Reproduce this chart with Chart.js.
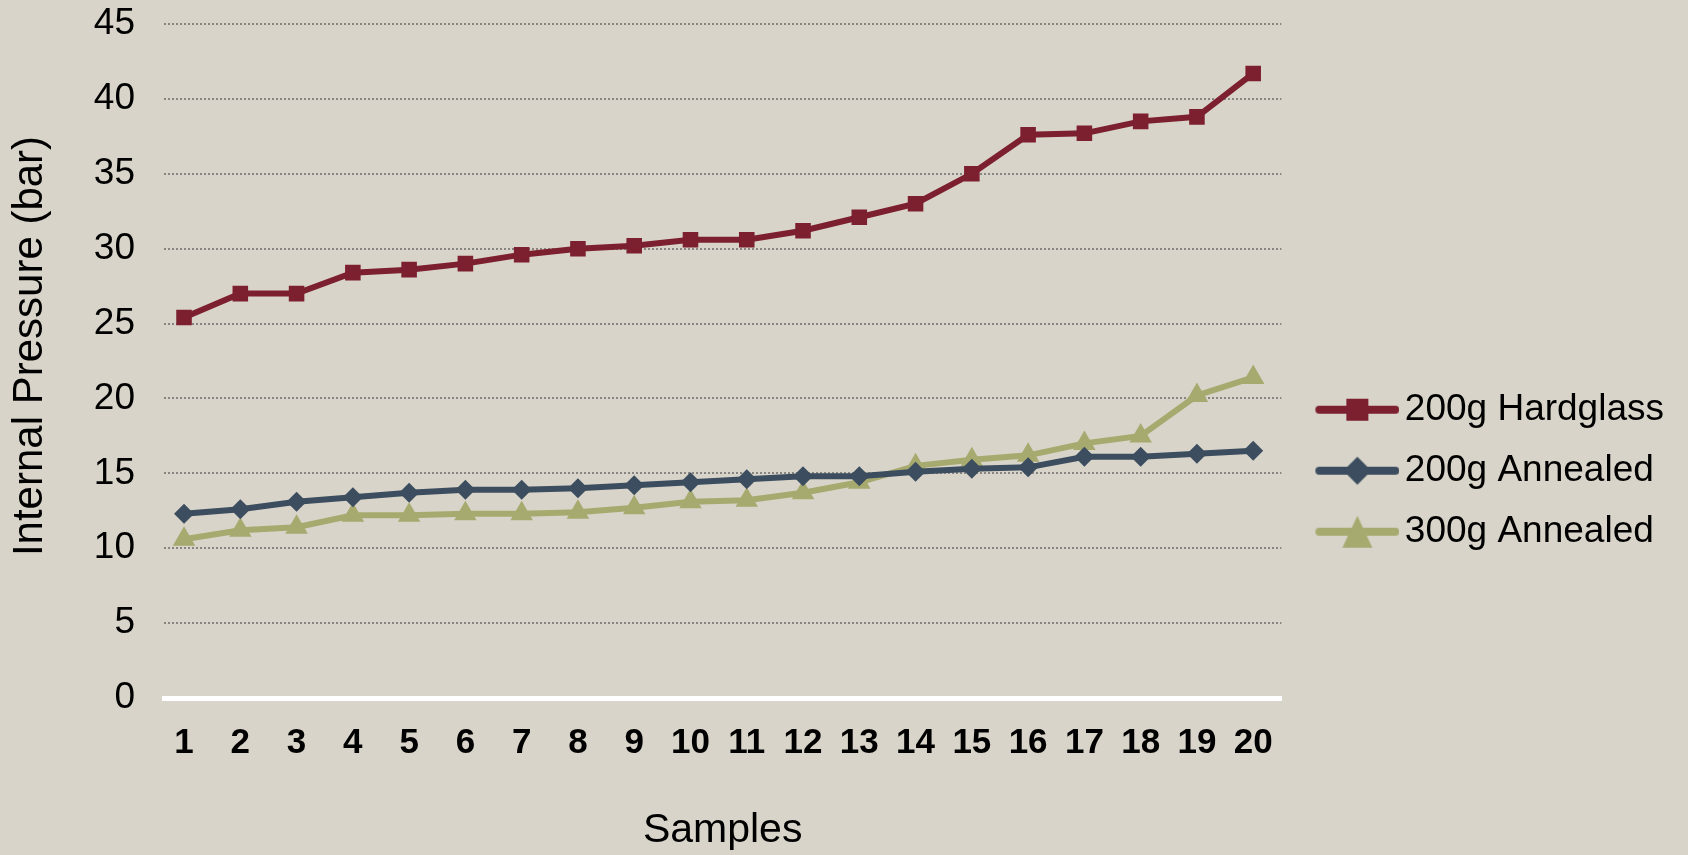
<!DOCTYPE html>
<html>
<head>
<meta charset="utf-8">
<script src="https://cdn.jsdelivr.net/npm/chart.js@4.4.1/dist/chart.umd.min.js"></script>
<style>
  html, body { margin: 0; padding: 0; background: #d8d4c9; }
  #wrap { width: 1688px; height: 855px; }
</style>
</head>
<body>
<div id="wrap"><canvas id="chart" width="1688" height="855"></canvas></div>
<script>
// data
const samples = [1, 2, 3, 4, 5, 6, 7, 8, 9, 10, 11, 12, 13, 14, 15, 16, 17, 18, 19, 20];
const hardglass200 = [25.4, 27.0, 27.0, 28.4, 28.6, 29.0, 29.6, 30.0, 30.2, 30.6, 30.6, 31.2, 32.1, 33.0, 35.0, 37.6, 37.7, 38.5, 38.8, 41.7];
const annealed200 = [12.3, 12.6, 13.1, 13.4, 13.7, 13.9, 13.9, 14.0, 14.2, 14.4, 14.6, 14.8, 14.8, 15.1, 15.3, 15.4, 16.1, 16.1, 16.3, 16.5];
const annealed300 = [10.6, 11.2, 11.4, 12.2, 12.2, 12.3, 12.3, 12.4, 12.7, 13.1, 13.2, 13.7, 14.4, 15.5, 15.9, 16.2, 17.0, 17.5, 20.2, 21.4];
const seriesNames = ['200g Hardglass', '200g Annealed', '300g Annealed'];
const yTicks = [0, 5, 10, 15, 20, 25, 30, 35, 40, 45];
const yTitle = 'Internal Pressure (bar)';

const RED = '#7c1f2e', BLUE = '#3b4d5e', OLIVE = '#a7aa6f';

// legend icon: line with marker in the middle
function legendIcon(color, shape) {
  const c = document.createElement('canvas');
  c.width = 107; c.height = 36;
  const g = c.getContext('2d');
  const cy = 18, cx = 65;
  g.strokeStyle = color; g.fillStyle = color;
  g.lineWidth = 8; g.lineCap = 'round';
  g.beginPath(); g.moveTo(27, cy); g.lineTo(103, cy); g.stroke();
  g.beginPath();
  if (shape === 'rect') {
    g.rect(cx - 11, cy - 11, 22, 22);
  } else if (shape === 'diamond') {
    g.moveTo(cx, cy - 14); g.lineTo(cx + 14, cy); g.lineTo(cx, cy + 14); g.lineTo(cx - 14, cy);
  } else {
    g.moveTo(cx, cy - 16); g.lineTo(cx + 15, cy + 16); g.lineTo(cx - 15, cy + 16);
  }
  g.closePath(); g.fill();
  return c;
}
const icons = [legendIcon(RED, 'rect'), legendIcon(BLUE, 'diamond'), legendIcon(OLIVE, 'tri')];

const toPoints = arr => samples.map((s, i) => ({ x: s, y: arr[i] }));

new Chart(document.getElementById('chart'), {
  type: 'line',
  data: {
    datasets: [
      { label: seriesNames[0], data: toPoints(hardglass200), borderColor: RED, backgroundColor: RED,
        borderWidth: 6, pointStyle: 'rect', pointRadius: 11, pointBorderWidth: 0 },
      { label: seriesNames[1], data: toPoints(annealed200), borderColor: BLUE, backgroundColor: BLUE,
        borderWidth: 6, pointStyle: 'rectRot', pointRadius: 10, pointBorderWidth: 0 },
      { label: seriesNames[2], data: toPoints(annealed300), borderColor: OLIVE, backgroundColor: OLIVE,
        borderWidth: 6, pointStyle: 'triangle', pointRadius: 13, pointBorderWidth: 0 }
    ]
  },
  options: {
    responsive: false,
    animation: false,
    layout: { padding: { top: 24, left: 0, right: 14, bottom: 0 } },
    plugins: {
      tooltip: { enabled: false },
      legend: {
        position: 'right',
        title: { display: true, text: '', padding: 24 },
        labels: {
          color: '#000',
          font: { family: "'Liberation Sans', Arial, sans-serif", size: 37 },
          usePointStyle: true,
          pointStyleWidth: 81,
          padding: 24,
          generateLabels(chart) {
            const items = Chart.defaults.plugins.legend.labels.generateLabels(chart);
            return items.map((it, i) => ({ ...it, pointStyle: icons[i] }));
          }
        }
      }
    },
    scales: {
      x: {
        type: 'linear',
        min: 0.644,
        max: 20.5,
        afterBuildTicks(scale) { scale.ticks = samples.map(v => ({ value: v })); },
        afterFit(scale) { scale.height = 157; },
        grid: { display: false, drawTicks: false },
        border: { display: true, color: '#ffffff', width: 5 },
        ticks: {
          color: '#000',
          padding: 24,
          maxRotation: 0,
          autoSkip: false,
          font: { family: "'Liberation Sans Narrow', 'Arial Narrow', 'Liberation Sans', sans-serif", size: 35, weight: 'bold' }
        },
        title: {
          display: true,
          text: 'Samples',
          color: '#000',
          font: { family: "'Liberation Sans', Arial, sans-serif", size: 41 },
          padding: { top: 0, bottom: 0 }
        }
      },
      y: {
        min: 0,
        max: 45,
        afterBuildTicks(scale) { scale.ticks = yTicks.map(v => ({ value: v })); },
        afterFit(scale) { scale.width = 164; },
        grid: {
          drawTicks: true,
          tickLength: 29,
          tickColor: 'rgba(0,0,0,0)',
          lineWidth: 2,
          color: ctx => ctx.tick && ctx.tick.value === 0 ? 'rgba(0,0,0,0)' : '#878581'
        },
        border: { display: false, dash: [2, 2] },
        ticks: {
          color: '#000',
          padding: 0,
          font: { family: "'Liberation Sans', Arial, sans-serif", size: 37 }
        },
        title: { display: false }
      }
    }
  },
  plugins: [{
    id: 'bg',
    beforeDraw(chart) {
      const { ctx, width, height } = chart;
      ctx.save();
      ctx.fillStyle = '#d8d4c9';
      ctx.fillRect(0, 0, width, height);
      ctx.restore();
    }
  }, {
    // y axis title, sits a little above the plot centre like the original
    id: 'yTitle',
    afterDraw(chart) {
      const { ctx } = chart;
      ctx.save();
      ctx.translate(30, 346);
      ctx.rotate(-Math.PI / 2);
      ctx.font = "42px 'Liberation Sans', Arial, sans-serif";
      ctx.fillStyle = '#000';
      ctx.textAlign = 'center';
      ctx.textBaseline = 'middle';
      ctx.fillText(yTitle, 0, 0);
      ctx.restore();
    }
  }]
});
</script>
</body>
</html>
